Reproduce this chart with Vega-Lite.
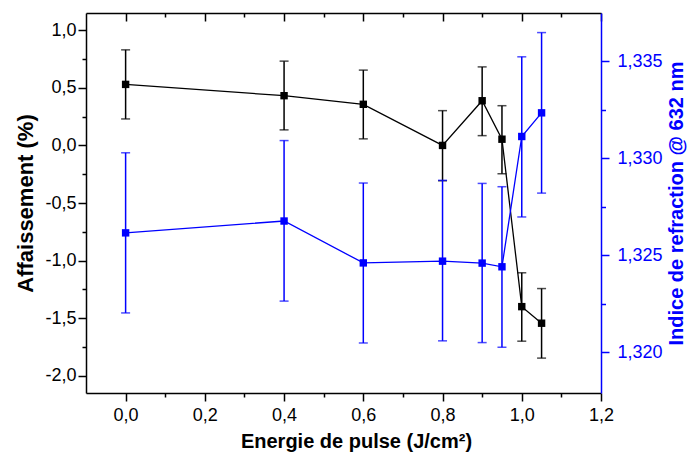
{
  "$schema": "https://vega.github.io/schema/vega-lite/v6.json",
  "width": 515,
  "height": 380,
  "autosize": "none",
  "padding": {"left": 86, "top": 13, "right": 88, "bottom": 63},
  "background": "white",
  "config": {
    "view": {"stroke": null},
    "font": "Liberation Sans",
    "axis": {"grid": false, "labelFont": "Liberation Sans", "titleFont": "Liberation Sans", "labelOverlap": false, "labelFlush": false}
  },
  "data": {
    "values": [
      {"e": 0.0, "a": 0.53, "alo": 0.23, "ahi": 0.83, "n": 1.32616, "nlo": 1.32203, "nhi": 1.33029},
      {"e": 0.4, "a": 0.432, "alo": 0.135, "ahi": 0.732, "n": 1.32677, "nlo": 1.32264, "nhi": 1.33092},
      {"e": 0.6, "a": 0.357, "alo": 0.057, "ahi": 0.654, "n": 1.32461, "nlo": 1.32048, "nhi": 1.32873},
      {"e": 0.8, "a": 0.0, "alo": -0.307, "ahi": 0.302, "n": 1.3247, "nlo": 1.32059, "nhi": 1.32887},
      {"e": 0.9, "a": 0.388, "alo": 0.085, "ahi": 0.682, "n": 1.3246, "nlo": 1.3205, "nhi": 1.32871},
      {"e": 0.95, "a": 0.054, "alo": -0.246, "ahi": 0.345, "n": 1.32441, "nlo": 1.32026, "nhi": 1.32854},
      {"e": 1.0, "a": -1.4, "alo": -1.7, "ahi": -1.106, "n": 1.33113, "nlo": 1.32698, "nhi": 1.33524},
      {"e": 1.05, "a": -1.544, "alo": -1.847, "ahi": -1.243, "n": 1.33235, "nlo": 1.32821, "nhi": 1.33649}
    ]
  },
  "layer": [
    {
      "mark": {"type": "rule", "color": "black", "strokeWidth": 1.5},
      "encoding": {
        "x": {"field": "e", "type": "quantitative",
          "scale": {"domain": [-0.1, 1.2], "nice": false, "zero": false},
          "axis": {"orient": "bottom", "title": "Energie de pulse (J/cm²)",
            "values": [0, 0.1, 0.2, 0.3, 0.4, 0.5, 0.6, 0.7, 0.8, 0.9, 1.0, 1.1, 1.2],
            "labelExpr": "abs(datum.value*5 - round(datum.value*5)) < 0.01 ? replace(format(datum.value, '.1f'), '.', ',') : ''",
            "tickSize": {"condition": {"test": "abs(datum.value*5 - round(datum.value*5)) < 0.01", "value": 8}, "value": 4},
            "tickColor": "black", "tickWidth": 1.5, "domainColor": "black", "domainWidth": 1.5,
            "labelColor": "black", "labelFontSize": 18, "labelPadding": 5,
            "titleColor": "black", "titleFontSize": 20, "titleFontWeight": "bold", "titlePadding": 7, "titleX": 270}},
        "y": {"field": "alo", "type": "quantitative",
          "scale": {"domain": [-2.15, 1.15], "nice": false, "zero": false},
          "axis": {"orient": "left", "title": "Affaissement (%)",
            "values": [-2, -1.75, -1.5, -1.25, -1, -0.75, -0.5, -0.25, 0, 0.25, 0.5, 0.75, 1],
            "labelExpr": "abs(datum.value*2 - round(datum.value*2)) < 0.01 ? replace(replace(format(datum.value, '.1f'), '.', ','), '−', '-') : ''",
            "tickSize": {"condition": {"test": "abs(datum.value*2 - round(datum.value*2)) < 0.01", "value": 8}, "value": 4},
            "tickColor": "black", "tickWidth": 1.5, "domainColor": "black", "domainWidth": 1.5,
            "labelColor": "black", "labelFontSize": 18, "labelPadding": 2,
            "titleColor": "black", "titleFontSize": 22, "titleFontWeight": "bold", "titlePadding": 7}},
        "y2": {"field": "ahi"}
      }
    },
    {
      "mark": {"type": "tick", "orient": "horizontal", "color": "black", "size": 9, "thickness": 1.5},
      "encoding": {
        "x": {"field": "e", "type": "quantitative", "scale": {"domain": [-0.1, 1.2], "nice": false, "zero": false}, "axis": null},
        "y": {"field": "alo", "type": "quantitative", "scale": {"domain": [-2.15, 1.15], "nice": false, "zero": false}, "axis": null}
      }
    },
    {
      "mark": {"type": "tick", "orient": "horizontal", "color": "black", "size": 9, "thickness": 1.5},
      "encoding": {
        "x": {"field": "e", "type": "quantitative", "scale": {"domain": [-0.1, 1.2], "nice": false, "zero": false}, "axis": null},
        "y": {"field": "ahi", "type": "quantitative", "scale": {"domain": [-2.15, 1.15], "nice": false, "zero": false}, "axis": null}
      }
    },
    {
      "mark": {"type": "line", "color": "black", "strokeWidth": 1.3,
        "point": {"shape": "square", "size": 55, "filled": true, "color": "black", "opacity": 1}},
      "encoding": {
        "x": {"field": "e", "type": "quantitative", "scale": {"domain": [-0.1, 1.2], "nice": false, "zero": false}, "axis": null},
        "y": {"field": "a", "type": "quantitative", "scale": {"domain": [-2.15, 1.15], "nice": false, "zero": false}, "axis": null}
      }
    },
    {
      "mark": {"type": "rule", "color": "#0000ff", "strokeWidth": 1.5},
      "encoding": {
        "x": {"field": "e", "type": "quantitative",
          "scale": {"domain": [-0.1, 1.2], "nice": false, "zero": false},
          "axis": {"orient": "top", "title": null, "labels": false,
            "values": [0, 0.1, 0.2, 0.3, 0.4, 0.5, 0.6, 0.7, 0.8, 0.9, 1.0, 1.1, 1.2],
            "tickSize": {"condition": {"test": "abs(datum.value*5 - round(datum.value*5)) < 0.01", "value": -8}, "value": -4},
            "tickColor": "black", "tickWidth": 1.5, "domainColor": "black", "domainWidth": 1.5}},
        "y": {"field": "nlo", "type": "quantitative",
          "scale": {"domain": [1.3179, 1.3375], "nice": false, "zero": false},
          "axis": {"orient": "right", "title": "Indice de refraction @ 632 nm",
            "values": [1.32, 1.3225, 1.325, 1.3275, 1.33, 1.3325, 1.335],
            "labelExpr": "abs(datum.value*200 - round(datum.value*200)) < 0.01 ? replace(format(datum.value, '.3f'), '.', ',') : ''",
            "tickSize": {"condition": {"test": "abs(datum.value*200 - round(datum.value*200)) < 0.01", "value": 8}, "value": 4.5},
            "tickColor": "#0000ff", "tickWidth": 1.5, "domainColor": "#0000ff", "domainWidth": 1.5,
            "labelColor": "#0000ff", "labelFontSize": 18, "labelPadding": 8,
            "titleColor": "#0000ff", "titleFontSize": 20, "titleFontWeight": "bold", "titleAngle": 270, "titleBaseline": "top", "titlePadding": 4}},
        "y2": {"field": "nhi"}
      }
    },
    {
      "mark": {"type": "tick", "orient": "horizontal", "color": "#0000ff", "size": 9, "thickness": 1.5},
      "encoding": {
        "x": {"field": "e", "type": "quantitative", "scale": {"domain": [-0.1, 1.2], "nice": false, "zero": false}, "axis": null},
        "y": {"field": "nlo", "type": "quantitative", "scale": {"domain": [1.3179, 1.3375], "nice": false, "zero": false}, "axis": null}
      }
    },
    {
      "mark": {"type": "tick", "orient": "horizontal", "color": "#0000ff", "size": 9, "thickness": 1.5},
      "encoding": {
        "x": {"field": "e", "type": "quantitative", "scale": {"domain": [-0.1, 1.2], "nice": false, "zero": false}, "axis": null},
        "y": {"field": "nhi", "type": "quantitative", "scale": {"domain": [1.3179, 1.3375], "nice": false, "zero": false}, "axis": null}
      }
    },
    {
      "mark": {"type": "line", "color": "#0000ff", "strokeWidth": 1.3,
        "point": {"shape": "square", "size": 55, "filled": true, "color": "#0000ff", "opacity": 1}},
      "encoding": {
        "x": {"field": "e", "type": "quantitative", "scale": {"domain": [-0.1, 1.2], "nice": false, "zero": false}, "axis": null},
        "y": {"field": "n", "type": "quantitative", "scale": {"domain": [1.3179, 1.3375], "nice": false, "zero": false}, "axis": null}
      }
    }
  ],
  "resolve": {"scale": {"x": "independent", "y": "independent"}, "axis": {"x": "independent", "y": "independent"}}
}
